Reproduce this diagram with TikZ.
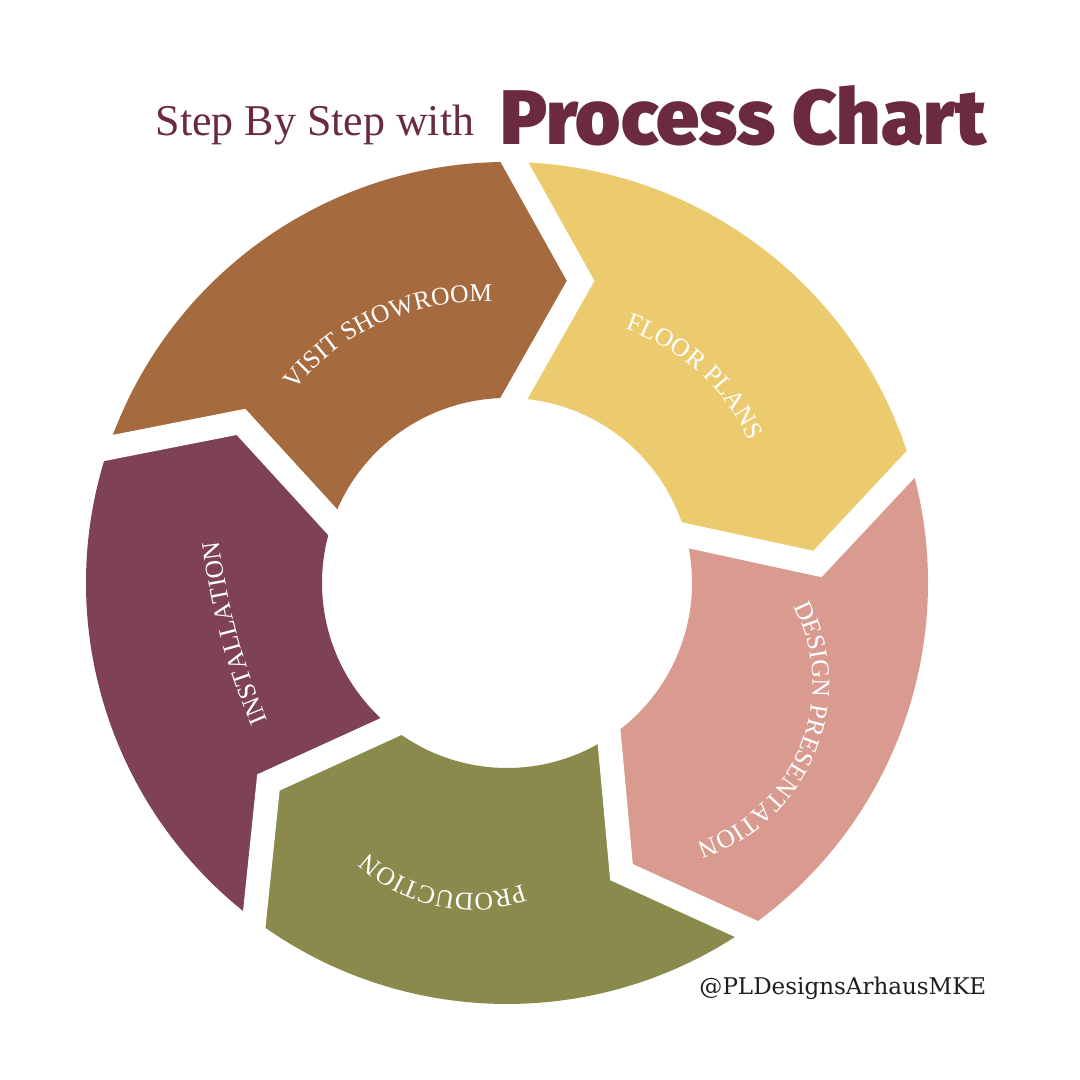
\documentclass[tikz,border=0pt]{standalone}
\usepackage{fontspec}
\setmainfont{Liberation Serif}
\newfontfamily\handlefont{DejaVu Serif}
\newfontfamily\heavyfont{Fira Sans}[UprightFont=* Black]
\usetikzlibrary{calc,decorations.text}
\definecolor{wine}{HTML}{6B2A42}
\definecolor{segbrown}{HTML}{A66A3F}
\definecolor{segyellow}{HTML}{ECCB6E}
\definecolor{segpink}{HTML}{D99A8F}
\definecolor{segolive}{HTML}{8A8A4C}
\definecolor{segplum}{HTML}{7F4155}
\definecolor{handle}{HTML}{1E1E1E}
\newcommand\segfont{\fontsize{7.3}{8}\selectfont}

\begin{document}
\begin{tikzpicture}[
  gap/.style={draw=white,line width=0.24cm,line join=miter},
  steplabel/.style={decorate,decoration={text along path,text align=center,text color=white}}
]
  \fill[white] (0,0) rectangle (10.8,10.8);
  \useasboundingbox (0,0) rectangle (10.8,10.8);
  %\draw[help lines] (0,0) grid (10.8,10.8);
  \coordinate (C) at (5.07,4.97);
  % outer end, tip and inner end of each border
  \coordinate (o1) at ($(C)+(89:4.21)$);
  \coordinate (t1) at ($(C)+(76.3:3.11)$);
  \coordinate (i1) at ($(C)+(87.8:1.85)$);
  \coordinate (o2) at ($(C)+(16.4:4.21)$);
  \coordinate (t2) at ($(C)+(3.5:3.11)$);
  \coordinate (i2) at ($(C)+(14.9:1.85)$);
  \coordinate (o3) at ($(C)+(-55.3:4.21)$);
  \coordinate (t3) at ($(C)+(-68.4:3.11)$);
  \coordinate (i3) at ($(C)+(-56.5:1.85)$);
  \coordinate (o4) at ($(C)+(-126.9:4.21)$);
  \coordinate (t4) at ($(C)+(-140.1:3.11)$);
  \coordinate (i4) at ($(C)+(-129:1.85)$);
  \coordinate (o5) at ($(C)+(161.3:4.21)$);
  \coordinate (t5) at ($(C)+(148.8:3.11)$);
  \coordinate (i5) at ($(C)+(160.7:1.85)$);

  % the five steps
  \fill[segbrown] (o5) arc[start angle=161.3,end angle=89,radius=4.21] -- (t1) -- (i1)
    arc[start angle=87.8,end angle=160.7,radius=1.85] -- (t5) -- cycle;
  \fill[segyellow] (o1) arc[start angle=89,end angle=16.4,radius=4.21] -- (t2) -- (i2)
    arc[start angle=14.9,end angle=87.8,radius=1.85] -- (t1) -- cycle;
  \fill[segpink] (o2) arc[start angle=16.4,end angle=-55.3,radius=4.21] -- (t3) -- (i3)
    arc[start angle=-56.5,end angle=14.9,radius=1.85] -- (t2) -- cycle;
  \fill[segolive] (o3) arc[start angle=-55.3,end angle=-126.9,radius=4.21] -- (t4) -- (i4)
    arc[start angle=-129,end angle=-56.5,radius=1.85] -- (t3) -- cycle;
  \fill[segplum] (o4) arc[start angle=-126.9,end angle=-198.7,radius=4.21] -- (t5) -- (i5)
    arc[start angle=-199.3,end angle=-129,radius=1.85] -- (t4) -- cycle;

  % white gaps between the steps
  \draw[gap] ($(t1)!1.12!(o1)$) -- (t1) -- ($(t1)!1.2!(i1)$);
  \draw[gap] ($(t2)!1.12!(o2)$) -- (t2) -- ($(t2)!1.2!(i2)$);
  \draw[gap] ($(t3)!1.12!(o3)$) -- (t3) -- ($(t3)!1.2!(i3)$);
  \draw[gap] ($(t4)!1.12!(o4)$) -- (t4) -- ($(t4)!1.2!(i4)$);
  \draw[gap] ($(t5)!1.12!(o5)$) -- (t5) -- ($(t5)!1.2!(i5)$);

  % curved labels
  \path[steplabel,decoration={text={|\segfont|VISIT SHOWROOM}}]
    ($(4.806,5.376)+(154:2.405)$) arc[start angle=154,end angle=74,radius=2.405];
  \path[steplabel,decoration={text={|\segfont|FLOOR PLANS}}]
    ($(5.557,5.489)+(93:2.135)$) arc[start angle=93,end angle=3,radius=2.135];
  \path[steplabel,decoration={text={|\segfont|DESIGN PRESENTATION}}]
    ($(6.46,3.96)+(42.7:1.665)$) arc[start angle=42.7,end angle=-87.3,radius=1.665];
  \path[steplabel,decoration={text={|\segfont|PRODUCTION}}]
    ($(4.709,3.352)+(-51.5:1.485)$) arc[start angle=-51.5,end angle=-151.5,radius=1.485];
  \path[steplabel,decoration={text={|\segfont|INSTALLATION}}]
    ($(8.428,6.10)+(210:6.275)$) arc[start angle=210,end angle=180,radius=6.275];

  % heading and tag
  \node[anchor=base west,inner sep=0,text=wine,font=\fontsize{12.5}{14}\selectfont] (lead) at (1.55,9.44) {Step By Step with};
  \node[anchor=base west,inner sep=0,text=wine,font=\heavyfont\fontsize{22}{24}\selectfont] (title) at (5.0,9.35) {Process Chart};
  \node[anchor=base east,inner sep=0,text=handle,font=\handlefont\fontsize{6.55}{8}\selectfont] (tag) at (9.87,0.85) {@PLDesignsArhausMKE};
\end{tikzpicture}
\end{document}
